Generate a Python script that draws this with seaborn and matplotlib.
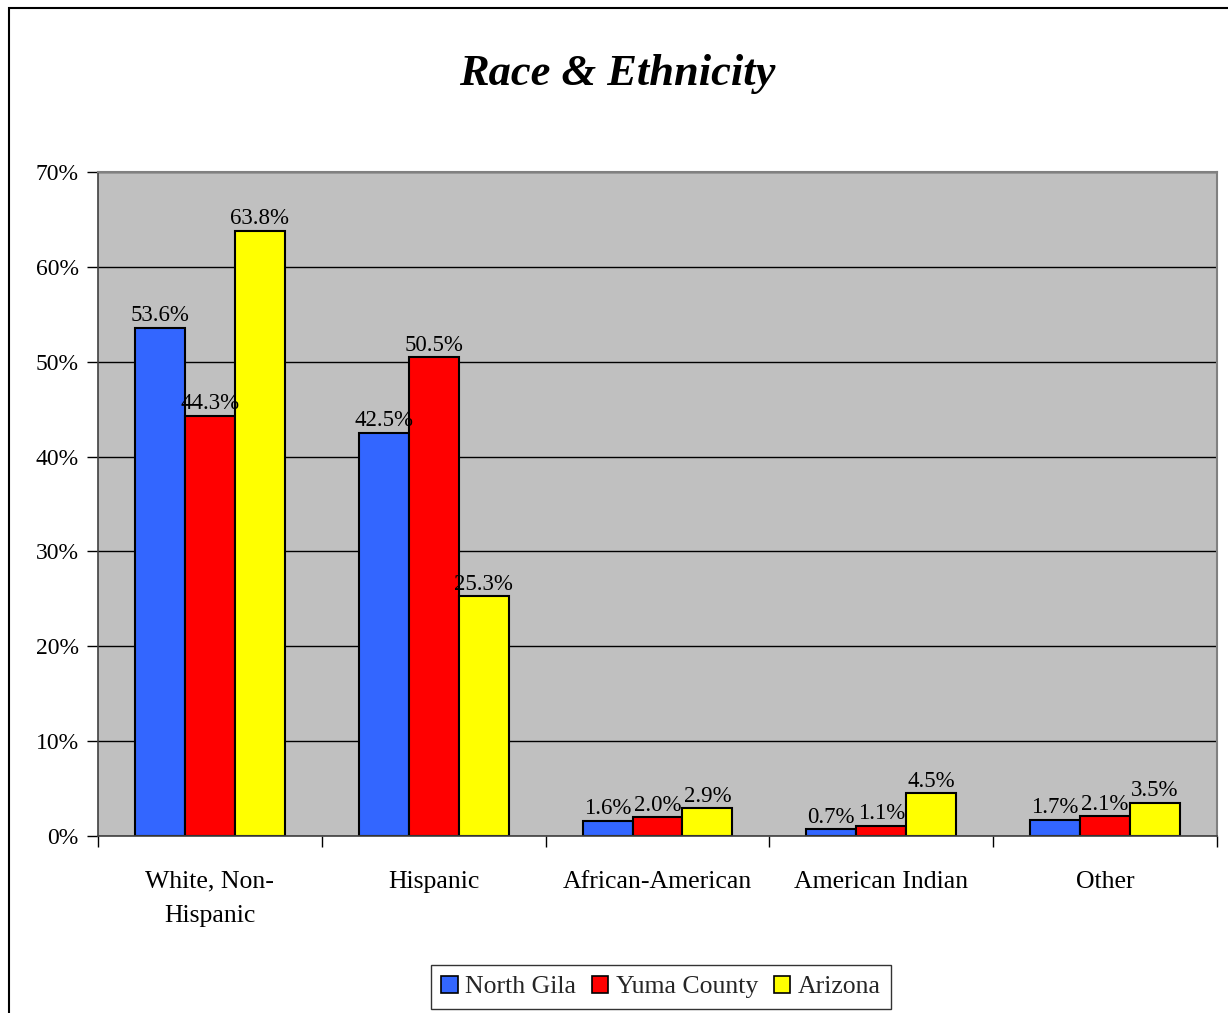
import numpy as np
import pandas as pd
import matplotlib
matplotlib.use("Agg")
import matplotlib.pyplot as plt
import matplotlib.patches as mpatches
from matplotlib.ticker import FixedLocator, FuncFormatter
import seaborn as sns

categories = ["White, Non-\nHispanic", "Hispanic", "African-American", "American Indian", "Other"]
areas = ["North Gila", "Yuma County", "Arizona"]
north_gila = [53.6, 42.5, 1.6, 0.7, 1.7]
yuma_county = [44.3, 50.5, 2.0, 1.1, 2.1]
arizona = [63.8, 25.3, 2.9, 4.5, 3.5]
y_ticks = [0, 10, 20, 30, 40, 50, 60, 70]

colors = ["#3366FF", "#FF0000", "#FFFF00"]

df = pd.DataFrame({
    "category": categories * 3,
    "area": [areas[0]] * 5 + [areas[1]] * 5 + [areas[2]] * 5,
    "value": north_gila + yuma_county + arizona,
})

sns.set_theme(style="white")
plt.rcParams["font.family"] = ["Liberation Serif", "DejaVu Serif"]

fig = plt.figure(figsize=(12.28, 10.13), dpi=100)
ax = fig.add_axes([98 / 1228, 1 - 836 / 1013, (1217 - 98) / 1228, (836 - 172) / 1013])
ax.set_facecolor("#C0C0C0")

sns.barplot(data=df, x="category", y="value", hue="area", order=categories,
            hue_order=areas, palette=colors, width=0.67, gap=0,
            edgecolor="black", linewidth=1.5, saturation=1, ax=ax, legend=False)

for cont in ax.containers:
    ax.bar_label(cont, fmt="%.1f%%", padding=1, fontsize=16.5, color="black")

ax.set_ylim(0, 70)
ax.set_xlim(-0.5, len(categories) - 0.5)
ax.set_yticks(y_ticks)
ax.yaxis.set_major_formatter(FuncFormatter(lambda v, p: "%d%%" % v))
ax.grid(axis="y", color="black", linewidth=1)
ax.set_axisbelow(True)

# category boundaries get the tick marks, names sit in between
ax.xaxis.set_major_locator(FixedLocator(np.arange(-0.5, len(categories), 1.0)))
ax.xaxis.set_major_formatter(FuncFormatter(lambda v, p: ""))
ax.xaxis.set_minor_locator(FixedLocator(np.arange(len(categories))))
ax.set_xticklabels(categories, minor=True)
ax.tick_params(axis="x", which="major", length=8, width=1, color="black", direction="out", bottom=True)
ax.tick_params(axis="x", which="minor", length=0, pad=25, labelsize=18.5, labelcolor="black")
ax.tick_params(axis="y", length=8, width=1, color="black", direction="out", left=True,
               labelsize=17, labelcolor="black", pad=6)
for lab in ax.get_xticklabels(minor=True):
    lab.set_linespacing(1.75)

ax.set_xlabel("")
ax.set_ylabel("")
for side in ["left", "bottom"]:
    ax.spines[side].set_color("#404040")
    ax.spines[side].set_linewidth(1.2)
for side in ["top", "right"]:
    ax.spines[side].set_color("#808080")
    ax.spines[side].set_linewidth(1.5)

fig.text(617 / 1228, 1 - 74 / 1013, "Race & Ethnicity", ha="center", va="center",
         fontsize=32, fontweight="bold", fontstyle="italic", color="black")

handles = [mpatches.Patch(facecolor=c, edgecolor="black", linewidth=1.2) for c in colors]
leg = fig.legend(handles, areas, loc="center", bbox_to_anchor=(661 / 1228, 1 - 987 / 1013),
                 ncol=3, fontsize=18.5, frameon=True, fancybox=False, edgecolor="black",
                 handlelength=0.65, handleheight=0.65, handletextpad=0.3, columnspacing=0.6,
                 borderpad=0.4, borderaxespad=0)
leg.get_frame().set_linewidth(1)

# outer chart border
fig.patches.append(mpatches.Rectangle((9 / 1228, -0.1), 1.2, 1.1 - 8 / 1013, transform=fig.transFigure,
                                      fill=False, edgecolor="black", linewidth=1.5))

fig.savefig("out.png", dpi=100)
